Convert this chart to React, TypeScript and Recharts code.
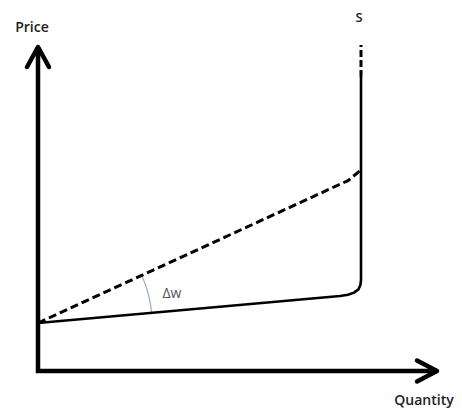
import React from 'react';
import { ComposedChart, Line, XAxis, YAxis, ReferenceDot } from 'recharts';

// Axes (data units; origin at axis corner)
const axisPts = [
  { x: 0, y: 81 },
  { x: 0, y: 0 },
  { x: 99.75, y: 0 },
];
const priceArrow = [
  { x: -2.75, y: 76 },
  { x: 0, y: 81 },
  { x: 2.75, y: 76 },
];
const qtyArrow = [
  { x: 94.75, y: 2.6 },
  { x: 99.75, y: 0 },
  { x: 94.75, y: -2.6 },
];

// Supply curve (solid), with rounded corner then vertical
const supplySolid = [
  { x: 0, y: 12 },
  { x: 75.5, y: 18.75 },
  { x: 77.5, y: 19.05 },
  { x: 79.0, y: 19.6 },
  { x: 80.1, y: 20.4 },
  { x: 80.6, y: 21.5 },
  { x: 80.75, y: 22.75 },
  { x: 80.75, y: 73.5 },
];
// Vertical dashed extension at top
const supplyTop = [
  { x: 80.75, y: 73.5 },
  { x: 80.75, y: 81.5 },
];
// Shifted supply (dashed)
const supplyShift = [
  { x: 0, y: 12 },
  { x: 77.5, y: 47.6 },
  { x: 80.75, y: 50.25 },
];

// Angle arc between the two lines
const arcCenter = { x: 0, y: 12 };
const arcRadius = 28.5;
const arcFrom = 4.9;
const arcTo = 25.4;
const arcPts = Array.from({ length: 21 }, (_, i) => {
  const a = ((arcFrom + ((arcTo - arcFrom) * i) / 20) * Math.PI) / 180;
  return { x: arcCenter.x + arcRadius * Math.cos(a), y: arcCenter.y + arcRadius * Math.sin(a) };
});

const labels = [
  { text: 'Price', x: -1.5, y: 86, size: 14, weight: 600, color: '#222' },
  { text: 'S', x: 80.25, y: 88.5, size: 13, weight: 600, color: '#222' },
  { text: 'Quantity', x: 96.5, y: -7.25, size: 14, weight: 600, color: '#222' },
  { text: 'Δw', x: 33.5, y: 19.5, size: 14, weight: 400, color: '#555' },
];

const FONT = "'Open Sans', sans-serif";

export default function App() {
  return (
    <div style={{ position: 'absolute', left: 0, top: 0, background: '#fff' }}>
      <ComposedChart width={462} height={409} margin={{ top: 0, right: 0, bottom: 0, left: 0 }}>
        <XAxis type="number" dataKey="x" hide domain={[-9.5, 106]} allowDataOverflow />
        <YAxis type="number" dataKey="y" hide domain={[-9.5, 92.75]} allowDataOverflow />
        <Line data={axisPts} dataKey="y" type="linear" stroke="#000" strokeWidth={4.5} strokeLinejoin="miter" dot={false} activeDot={false} isAnimationActive={false} />
        <Line data={priceArrow} dataKey="y" type="linear" stroke="#000" strokeWidth={4.5} strokeLinejoin="round" strokeLinecap="round" dot={false} activeDot={false} isAnimationActive={false} />
        <Line data={qtyArrow} dataKey="y" type="linear" stroke="#000" strokeWidth={4.5} strokeLinejoin="round" strokeLinecap="round" dot={false} activeDot={false} isAnimationActive={false} />
        <Line data={arcPts} dataKey="y" type="linear" stroke="#8eaadb" strokeWidth={1.2} dot={false} activeDot={false} isAnimationActive={false} />
        <Line data={supplyShift} dataKey="y" type="linear" stroke="#000" strokeWidth={3} strokeDasharray="8 4" dot={false} activeDot={false} isAnimationActive={false} />
        <Line data={supplySolid} dataKey="y" type="linear" stroke="#000" strokeWidth={2.6} strokeLinejoin="round" dot={false} activeDot={false} isAnimationActive={false} />
        <Line data={supplyTop} dataKey="y" type="linear" stroke="#000" strokeWidth={3} strokeDasharray="7 3" dot={false} activeDot={false} isAnimationActive={false} />
        {labels.map((l) => (
          <ReferenceDot
            key={l.text}
            x={l.x}
            y={l.y}
            r={0}
            fill="none"
            stroke="none"
            label={{ value: l.text, position: 'center', fill: l.color, fontSize: l.size, fontWeight: l.weight, fontFamily: FONT }}
          />
        ))}
      </ComposedChart>
    </div>
  );
}
